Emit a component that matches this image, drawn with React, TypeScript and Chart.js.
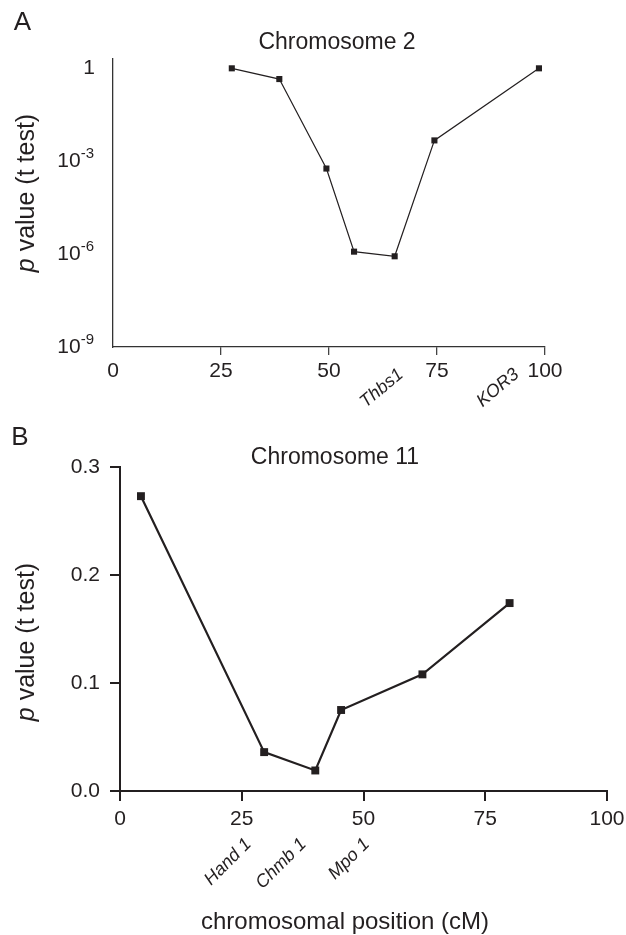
import React, { useEffect, useRef } from 'react';
import { Chart, registerables } from 'chart.js';

Chart.register(...registerables);

const FONT = "'Liberation Sans', Arial, Helvetica, sans-serif";
const INK = '#231f20';

// Panel A: chromosome 2
const chr2Positions = [27.5, 38.5, 49.4, 55.8, 65.2, 74.4, 98.6];
const chr2PValues = [1.0, 0.45, 5.8e-4, 1.2e-6, 8.5e-7, 4.7e-3, 1.0];
const chr2YTicks = [1e-9, 1e-6, 1e-3, 1];
const chr2Markers = ['Thbs1', 'KOR3'];
const chr2MarkerPositions = [67.4, 94.2];

// Panel B: chromosome 11
const chr11Positions = [4.3, 29.6, 40.1, 45.4, 62.1, 80.0];
const chr11PValues = [0.273, 0.036, 0.019, 0.075, 0.108, 0.174];
const chr11YTicks = [0, 0.1, 0.2, 0.3];
const chr11Markers = ['Hand 1', 'Chmb 1', 'Mpo 1'];
const chr11MarkerPositions = [27.1, 38.4, 51.4];

const xTicks = [0, 25, 50, 75, 100];

function drawYTitle(ctx: CanvasRenderingContext2D, cx: number, cy: number, size: number) {
  ctx.save();
  ctx.translate(cx, cy);
  ctx.rotate(-Math.PI / 2);
  ctx.fillStyle = INK;
  ctx.textBaseline = 'middle';
  ctx.textAlign = 'left';
  ctx.font = `italic ${size}px ${FONT}`;
  const wP = ctx.measureText('p').width;
  ctx.font = `${size}px ${FONT}`;
  const rest = ' value (t test)';
  const wR = ctx.measureText(rest).width;
  const x0 = -(wP + wR) / 2;
  ctx.font = `italic ${size}px ${FONT}`;
  ctx.fillText('p', x0, 0);
  ctx.font = `${size}px ${FONT}`;
  ctx.fillText(rest, x0 + wP, 0);
  ctx.restore();
}

function drawText(ctx: CanvasRenderingContext2D, text: string, x: number, y: number, size: number) {
  ctx.save();
  ctx.fillStyle = INK;
  ctx.font = `${size}px ${FONT}`;
  ctx.textAlign = 'center';
  ctx.textBaseline = 'middle';
  ctx.fillText(text, x, y);
  ctx.restore();
}

function drawMarkers(chart: any, labels: string[], positions: number[], y: number, angleDeg: number) {
  const ctx: CanvasRenderingContext2D = chart.ctx;
  const xs = chart.scales.x;
  labels.forEach((lab, i) => {
    const px = xs.getPixelForValue(positions[i]);
    ctx.save();
    ctx.translate(px, y);
    ctx.rotate((-angleDeg * Math.PI) / 180);
    ctx.fillStyle = INK;
    ctx.font = `italic 18px ${FONT}`;
    ctx.textAlign = 'right';
    ctx.textBaseline = 'alphabetic';
    ctx.fillText(lab, 0, 0);
    ctx.restore();
  });
}

const overlayA = {
  id: 'overlayA',
  afterDraw(chart: any) {
    const ctx: CanvasRenderingContext2D = chart.ctx;
    drawText(ctx, 'A', 22.5, 22.5, 26);
    drawText(ctx, 'Chromosome 2', 337, 43, 23);
    drawYTitle(ctx, 27, 193, 25);
    const ys = chart.scales.y;
    ctx.save();
    ctx.fillStyle = INK;
    ctx.textBaseline = 'middle';
    chr2YTicks.forEach((v) => {
      const e = Math.round(Math.log10(v));
      const py = ys.getPixelForValue(v);
      if (e === 0) {
        ctx.font = `21px ${FONT}`;
        ctx.textAlign = 'right';
        ctx.fillText('1', 95, py);
      } else {
        const sup = String(e);
        ctx.font = `15px ${FONT}`;
        const ws = ctx.measureText(sup).width;
        ctx.textAlign = 'left';
        ctx.fillText(sup, 94 - ws, py - 7);
        ctx.font = `21px ${FONT}`;
        ctx.textAlign = 'right';
        ctx.fillText('10', 94 - ws, py);
      }
    });
    ctx.restore();
    drawMarkers(chart, chr2Markers, chr2MarkerPositions, 376, 40);
  },
};

const overlayB = {
  id: 'overlayB',
  afterDraw(chart: any) {
    const ctx: CanvasRenderingContext2D = chart.ctx;
    drawText(ctx, 'B', 20, 18, 26);
    drawText(ctx, 'Chromosome 11', 335, 38, 23);
    drawYTitle(ctx, 27, 222, 25);
    drawText(ctx, 'chromosomal position (cM)', 345, 502, 24);
    drawMarkers(chart, chr11Markers, chr11MarkerPositions, 425, 45);
  },
};

function ChartA() {
  const ref = useRef<HTMLCanvasElement>(null);
  useEffect(() => {
    const chart = new Chart(ref.current as HTMLCanvasElement, {
      type: 'line',
      data: {
        datasets: [
          {
            data: chr2Positions.map((x, i) => ({ x, y: chr2PValues[i] })),
            borderColor: INK,
            borderWidth: 1.2,
            pointStyle: 'rect',
            pointRadius: 4.3,
            pointBackgroundColor: INK,
            pointBorderColor: INK,
            pointBorderWidth: 0,
            tension: 0,
            fill: false,
          },
        ],
      },
      options: {
        animation: false,
        responsive: false,
        maintainAspectRatio: false,
        layout: { padding: { left: 0, top: 59, right: 81, bottom: 0 } },
        plugins: { legend: { display: false }, tooltip: { enabled: false }, title: { display: false } },
        scales: {
          x: {
            type: 'linear',
            min: 0,
            max: 100,
            afterBuildTicks: (s: any) => {
              s.ticks = xTicks.map((v) => ({ value: v }));
            },
            afterFit: (s: any) => {
              s.height = 73;
              s.paddingLeft = 0;
              s.paddingRight = 0;
            },
            grid: {
              display: true,
              drawOnChartArea: false,
              drawTicks: true,
              tickLength: 8,
              lineWidth: 1.3,
              color: (c: any) => (c.tick && c.tick.value === 0 ? 'rgba(0,0,0,0)' : '#444'),
            },
            border: { display: true, color: '#333', width: 1.3 },
            ticks: { font: { family: FONT, size: 21 }, color: INK, padding: 4, maxRotation: 0, autoSkip: false },
          },
          y: {
            type: 'logarithmic',
            min: 1e-9,
            max: 2,
            afterBuildTicks: (s: any) => {
              s.ticks = chr2YTicks.map((v) => ({ value: v }));
            },
            afterFit: (s: any) => {
              s.width = 113;
              s.paddingTop = 0;
              s.paddingBottom = 0;
            },
            grid: { display: false },
            border: { display: true, color: '#333', width: 1.3 },
            ticks: { display: false },
          },
        },
      },
      plugins: [overlayA],
    } as any);
    return () => chart.destroy();
  }, []);
  return <canvas ref={ref} width={626} height={420} style={{ position: 'absolute', left: 0, top: 0, width: 626, height: 420 }} />;
}

function ChartB() {
  const ref = useRef<HTMLCanvasElement>(null);
  useEffect(() => {
    const chart = new Chart(ref.current as HTMLCanvasElement, {
      type: 'line',
      data: {
        datasets: [
          {
            data: chr11Positions.map((x, i) => ({ x, y: chr11PValues[i] })),
            borderColor: INK,
            borderWidth: 2.2,
            pointStyle: 'rect',
            pointRadius: 5.6,
            pointBackgroundColor: INK,
            pointBorderColor: INK,
            pointBorderWidth: 0,
            tension: 0,
            fill: false,
          },
        ],
      },
      options: {
        animation: false,
        responsive: false,
        maintainAspectRatio: false,
        layout: { padding: { left: 0, top: 47, right: 19, bottom: 0 } },
        plugins: { legend: { display: false }, tooltip: { enabled: false }, title: { display: false } },
        scales: {
          x: {
            type: 'linear',
            min: 0,
            max: 100,
            afterBuildTicks: (s: any) => {
              s.ticks = xTicks.map((v) => ({ value: v }));
            },
            afterFit: (s: any) => {
              s.height = 144;
              s.paddingLeft = 0;
              s.paddingRight = 0;
            },
            grid: { display: true, drawOnChartArea: false, drawTicks: true, tickLength: 10, lineWidth: 2, color: INK },
            border: { display: true, color: INK, width: 2 },
            ticks: { font: { family: FONT, size: 21 }, color: INK, padding: 6, maxRotation: 0, autoSkip: false },
          },
          y: {
            type: 'linear',
            min: 0,
            max: 0.3,
            afterBuildTicks: (s: any) => {
              s.ticks = chr11YTicks.map((v) => ({ value: v }));
            },
            afterFit: (s: any) => {
              s.width = 120;
              s.paddingTop = 0;
              s.paddingBottom = 0;
            },
            grid: { display: true, drawOnChartArea: false, drawTicks: true, tickLength: 10, lineWidth: 2, color: INK },
            border: { display: true, color: INK, width: 2 },
            ticks: {
              font: { family: FONT, size: 21 },
              color: INK,
              padding: 10,
              callback: (v: any) => Number(v).toFixed(1),
            },
          },
        },
      },
      plugins: [overlayB],
    } as any);
    return () => chart.destroy();
  }, []);
  return <canvas ref={ref} width={626} height={515} style={{ position: 'absolute', left: 0, top: 420, width: 626, height: 515 }} />;
}

export default function App() {
  return (
    <div style={{ position: 'absolute', left: 0, top: 0, width: 626, height: 935, background: '#fff', overflow: 'hidden' }}>
      <ChartA />
      <ChartB />
    </div>
  );
}
